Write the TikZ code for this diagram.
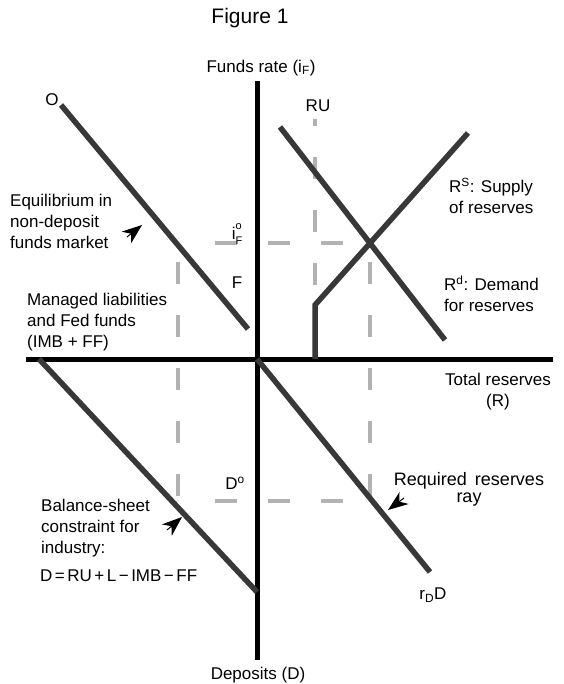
\documentclass[tikz,border=0pt]{standalone}
\usepackage{fontspec}
\setmainfont{Liberation Sans}
\usetikzlibrary{calc,arrows.meta,positioning}

\begin{document}
\begin{tikzpicture}[x=1pt,y=-1pt,
    axisline/.style={line width=5pt},
    curveline/.style={line width=5.5pt,black!78},
    guideline/.style={line width=4pt,black!30,dash pattern=on 22pt off 31pt},
    pointer/.style={line width=1pt,-{Stealth[length=20pt,width=15pt,inset=6pt]}},
    lbl/.style={font=\fontsize{17}{21}\selectfont,inner sep=0pt}]

\useasboundingbox (0,0) rectangle (563,684);

\newcommand{\drawGuide}[3]{
    \draw[guideline,dash phase=#3] (#1) -- (#2);
}
\newcommand{\smallidx}[1]{{\fontsize{11}{11}\selectfont #1}}

% axes
\coordinate (cOriginPt) at (257,359);
\coordinate (cTopPt) at (257,81);
\coordinate (cBottomPt) at (257,660);
\coordinate (cLeftPt) at (26,359);
\coordinate (cRightPt) at (553,359);

% guide corners
\coordinate (cEqLeftPt) at (178,243);
\coordinate (cEqRightPt) at (370,243);
\coordinate (cDepLeftPt) at (178,501);
\coordinate (cDepRightPt) at (370,501);
\coordinate (cRUTopPt) at (315,119);
\coordinate (cKinkPt) at (315,305);

\drawGuide{cRUTopPt}{cKinkPt}{15}
\drawGuide{cEqRightPt}{185,243}{26}
\drawGuide{cDepRightPt}{185,501}{26}
\drawGuide{cEqLeftPt}{cDepLeftPt}{34}
\drawGuide{cEqRightPt}{cDepRightPt}{34}

\draw[axisline] (cTopPt) -- (cBottomPt);
\draw[axisline] (cLeftPt) -- (cRightPt);

% schedules
\coordinate (cOStartPt) at (61,105);
\coordinate (cOEndPt) at (248,329);
\coordinate (cDemStartPt) at (280,127);
\coordinate (cDemEndPt) at (445,340);
\coordinate (cSupBasePt) at (315,359);
\coordinate (cSupEndPt) at (468,133);
\coordinate (cBalStartPt) at (39,359);
\coordinate (cBalEndPt) at (257,592);
\coordinate (cRayEndPt) at (430,572);

\draw[curveline] (cOStartPt) -- (cOEndPt);
\draw[curveline] (cDemStartPt) -- (cDemEndPt);
\draw[curveline,line join=miter] (cSupBasePt) -- (cKinkPt) -- (cSupEndPt);
\draw[curveline] (cBalStartPt) -- (cBalEndPt);
\draw[curveline] (cOriginPt) -- (cRayEndPt);

% pointers
\coordinate (cEqTailPt) at (127,237);
\coordinate (cEqTipPt) at (142,225);
\coordinate (cBalTailPt) at (167,530);
\coordinate (cBalTipPt) at (182,517);
\coordinate (cRayTailPt) at (404,498);
\coordinate (cRayTipPt) at (388,510);
\draw[pointer] (cEqTailPt) -- (cEqTipPt);
\draw[pointer] (cBalTailPt) -- (cBalTipPt);
\draw[pointer] (cRayTailPt) -- (cRayTipPt);

% labels
\node[lbl,font=\fontsize{21}{25}\selectfont] (title) at (250,18) {Figure 1};
\node[lbl] (fundsRate) at (261,68) {Funds rate (i\textsubscript{F})};
\node[lbl] (deposits) at (258,675) {Deposits (D)};
\node[lbl,align=center] (totalRes) at (498,392) {Total reserves\\(R)};
\node[lbl] (oLabel) at (52,100) {O};
\node[lbl] (ruLabel) at (318,106) {RU};
\node[lbl] (ifLabel) at (237,234) {i\rlap{\raisebox{1.05ex}{\smallidx{o}}}\raisebox{-0.55ex}{\smallidx{F}}};
\node[lbl] (fLabel) at (237,283) {F};
\node[lbl] (dLabel) at (235,483) {D\textsuperscript{o}};
\node[lbl] (rdLabel) at (433,595) {r\textsubscript{D}D};
\node[lbl,align=left,anchor=west] (eqText) at (10,221) {Equilibrium in\\non-deposit\\funds market};
\node[lbl,align=left,anchor=west] (managed) at (27,322) {Managed liabilities\\and Fed funds\\(IMB + FF)};
\node[lbl,align=left,anchor=west] (supply) at (449,196) {R\textsuperscript{S}: Supply\\of reserves};
\node[lbl,align=left,anchor=west] (demand) at (444,294) {R\textsuperscript{d}: Demand\\for reserves};
\node[lbl,align=left,anchor=west] (balance) at (41,528) {Balance-sheet\\constraint for\\industry:};
\node[lbl,anchor=west] (equation) at (40,576) {D\hspace{2.5pt}=\hspace{2.5pt}RU\hspace{2.5pt}+\hspace{2.5pt}L\hspace{2.5pt}−\hspace{2.5pt}IMB\hspace{2.5pt}−\hspace{2.5pt}FF};
\node[lbl,align=center,font=\fontsize{18}{17}\selectfont] (reqRes) at (469,489) {Required\hspace{8pt}reserves\\ray};

\end{tikzpicture}
\end{document}
